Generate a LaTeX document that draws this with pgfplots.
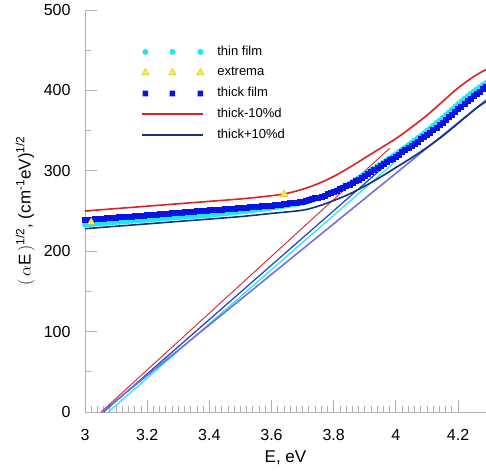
\documentclass[border=0pt]{standalone}
\usepackage{pgfplots}
\pgfplotsset{compat=1.18}
\usepackage{fontspec}
\setmainfont{Liberation Sans}
\definecolor{thincol}{RGB}{30,230,245}
\definecolor{thickcol}{RGB}{10,20,225}
\definecolor{extfill}{RGB}{250,240,60}
\definecolor{extdraw}{RGB}{205,190,40}
\definecolor{redcol}{RGB}{220,35,35}
\definecolor{navycol}{RGB}{20,50,120}
\definecolor{purplecol}{RGB}{115,110,225}
\definecolor{bluecol}{RGB}{40,60,190}
\definecolor{axgray}{RGB}{175,175,175}

\begin{document}
\begin{tikzpicture}
\begin{axis}[
    scale only axis,
    width=401pt, height=402pt,
    xmin=3, xmax=4.29,
    ymin=0, ymax=500,
    axis x line*=bottom, axis y line*=left,
    axis line style={axgray, line width=0.8pt},
    every tick/.style={axgray, line width=0.8pt},
    tick align=inside,
    major tick length=12pt, minor tick length=6pt,
    xtick={3,3.2,3.4,3.6,3.8,4,4.2},
    minor x tick num=9,
    ytick={0,100,200,300,400,500},
    minor y tick num=1,
    /pgf/number format/assume math mode=true,
    ticklabel style={font=\fontsize{16}{16}\selectfont},
    xticklabel style={yshift=-14pt},
    yticklabel style={xshift=-11pt},
    xlabel={E, eV},
    xlabel style={font=\fontsize{17}{17}\selectfont, yshift=-3pt},
    ylabel={$(\,\alpha$E$\,)$\textsuperscript{1/2}, (cm\textsuperscript{-1}eV)\textsuperscript{1/2}},
    ylabel style={font=\fontsize{17}{17}\selectfont, yshift=2pt},
    legend style={draw=none, fill=none, at={(rel axis cs:0.133,0.918)}, anchor=north west,
        font=\fontsize{13}{13}\selectfont, row sep=7.3pt,
        nodes={inner sep=1pt, text height=9pt, text depth=2.5pt},
        /tikz/every odd column/.append style={column sep=12pt}},
    legend cell align=left,
    clip=false,
]
% tangent lines
\addplot[redcol, line width=0.9pt, forget plot] coordinates {(3.052,0) (3.98,328)};
\addplot[thincol, line width=1.2pt, forget plot] coordinates {(3.075,0) (4.0,312)};
\addplot[bluecol, line width=1.2pt, forget plot] coordinates {(3.06,0) (4.0,318)};
\addplot[purplecol, line width=1.6pt, forget plot] coordinates {(3.055,0) (4.29,388)};

% legend entries
\addlegendimage{legend image code/.code={
    \path[draw=none, fill=thincol] (3pt,0pt) circle (3pt) (30pt,0pt) circle (3pt) (58pt,0pt) circle (3pt);}}
\addlegendentry{thin film}
\addlegendimage{legend image code/.code={
    \path plot[only marks, mark=triangle*, mark size=4.2pt, mark options={fill=extfill, draw=extdraw}]
      coordinates {(3pt,0pt) (30pt,0pt) (58pt,0pt)};}}
\addlegendentry{extrema}
\addlegendimage{legend image code/.code={
    \path[draw=none, fill=thickcol] (0.2pt,-2.8pt) rectangle (5.8pt,2.8pt) (27.2pt,-2.8pt) rectangle (32.8pt,2.8pt)
      (55.2pt,-2.8pt) rectangle (60.8pt,2.8pt);}}
\addlegendentry{thick film}
\addlegendimage{legend image code/.code={
    \draw[draw=redcol, line width=1.8pt] (0pt,0pt) -- (61pt,0pt);}}
\addlegendentry{thick-10\%d}
\addlegendimage{legend image code/.code={
    \draw[draw=navycol, line width=1.8pt] (0pt,0pt) -- (61pt,0pt);}}
\addlegendentry{thick+10\%d}

% thin film
\addplot[only marks, mark=*, mark size=2.6pt, color=thincol, forget plot] coordinates {
(3.00,233.0) (3.01,233.3) (3.02,233.6) (3.03,233.9) (3.04,234.2) (3.05,234.5)
(3.06,234.8) (3.07,235.1) (3.08,235.4) (3.09,235.7) (3.10,236.0) (3.11,236.3)
(3.12,236.6) (3.13,236.9) (3.14,237.2) (3.15,237.5) (3.16,237.8) (3.17,238.1)
(3.18,238.4) (3.19,238.7) (3.20,239.0) (3.21,239.3) (3.22,239.6) (3.23,239.9)
(3.24,240.2) (3.25,240.5) (3.26,240.8) (3.27,241.1) (3.28,241.4) (3.29,241.7)
(3.30,242.0) (3.31,242.3) (3.32,242.6) (3.33,242.9) (3.34,243.2) (3.35,243.5)
(3.36,243.8) (3.37,244.1) (3.38,244.4) (3.39,244.7) (3.40,245.0) (3.41,245.4)
(3.42,245.8) (3.43,246.2) (3.44,246.6) (3.45,247.0) (3.46,247.4) (3.47,247.8)
(3.48,248.2) (3.49,248.6) (3.50,249.0) (3.51,249.4) (3.52,249.9) (3.53,250.4)
(3.54,250.9) (3.55,251.4) (3.56,251.9) (3.57,252.4) (3.58,252.9) (3.59,253.4)
(3.60,254.0) (3.61,254.5) (3.62,255.1) (3.63,255.7) (3.64,256.3) (3.65,256.9)
(3.66,257.5) (3.67,258.1) (3.68,258.7) (3.69,259.3) (3.70,260.0) (3.71,261.1)
(3.72,262.2) (3.73,263.4) (3.74,264.7) (3.75,266.0) (3.76,267.4) (3.77,268.9)
(3.78,270.5) (3.79,272.2) (3.80,274.0) (3.81,275.9) (3.82,277.8) (3.83,279.8)
(3.84,281.8) (3.85,284.0) (3.86,286.2) (3.87,288.6) (3.88,291.0) (3.89,293.5)
(3.90,296.0) (3.91,298.4) (3.92,300.8) (3.93,303.2) (3.94,305.6) (3.95,308.1)
(3.96,310.6) (3.97,313.2) (3.98,315.8) (3.99,318.4) (4.00,321.0) (4.01,323.7)
(4.02,326.5) (4.03,329.3) (4.04,332.1) (4.05,335.0) (4.06,337.9) (4.07,340.9)
(4.08,343.9) (4.09,346.9) (4.10,350.0) (4.11,353.1) (4.12,356.3) (4.13,359.5)
(4.14,362.7) (4.15,366.0) (4.16,369.4) (4.17,372.8) (4.18,376.2) (4.19,379.6)
(4.20,383.0) (4.21,386.3) (4.22,389.5) (4.23,392.8) (4.24,396.0) (4.25,398.8)
(4.26,401.5) (4.27,404.3) (4.28,407.0) (4.29,409.5)
};
% thick film
\addplot[only marks, mark=square*, mark size=2.5pt, color=thickcol, forget plot] coordinates {
(3.00,239.0) (3.01,239.3) (3.02,239.6) (3.03,239.9) (3.04,240.2) (3.05,240.5)
(3.06,240.8) (3.07,241.1) (3.08,241.4) (3.09,241.7) (3.10,242.0) (3.11,242.3)
(3.12,242.6) (3.13,242.9) (3.14,243.2) (3.15,243.5) (3.16,243.8) (3.17,244.1)
(3.18,244.4) (3.19,244.7) (3.20,245.0) (3.21,245.3) (3.22,245.6) (3.23,245.9)
(3.24,246.2) (3.25,246.5) (3.26,246.8) (3.27,247.1) (3.28,247.4) (3.29,247.7)
(3.30,248.0) (3.31,248.3) (3.32,248.6) (3.33,248.9) (3.34,249.2) (3.35,249.5)
(3.36,249.8) (3.37,250.1) (3.38,250.4) (3.39,250.7) (3.40,251.0) (3.41,251.3)
(3.42,251.6) (3.43,251.9) (3.44,252.2) (3.45,252.5) (3.46,252.8) (3.47,253.1)
(3.48,253.4) (3.49,253.7) (3.50,254.0) (3.51,254.3) (3.52,254.6) (3.53,254.9)
(3.54,255.2) (3.55,255.5) (3.56,255.8) (3.57,256.1) (3.58,256.4) (3.59,256.7)
(3.60,257.0) (3.61,257.4) (3.62,257.8) (3.63,258.3) (3.64,258.8) (3.65,259.3)
(3.66,259.8) (3.67,260.3) (3.68,260.8) (3.69,261.4) (3.70,262.0) (3.71,262.9)
(3.72,263.8) (3.73,264.9) (3.74,266.0) (3.75,267.1) (3.76,268.2) (3.77,269.6)
(3.78,271.0) (3.79,272.5) (3.80,274.0) (3.81,275.7) (3.82,277.5) (3.83,279.2)
(3.84,281.0) (3.85,283.0) (3.86,285.0) (3.87,287.2) (3.88,289.4) (3.89,291.7)
(3.90,294.0) (3.91,296.4) (3.92,298.8) (3.93,301.2) (3.94,303.6) (3.95,306.0)
(3.96,308.4) (3.97,310.8) (3.98,313.2) (3.99,315.6) (4.00,318.0) (4.01,320.6)
(4.02,323.2) (4.03,325.8) (4.04,328.4) (4.05,331.0) (4.06,333.7) (4.07,336.5)
(4.08,339.3) (4.09,342.1) (4.10,345.0) (4.11,348.0) (4.12,351.0) (4.13,354.0)
(4.14,357.0) (4.15,360.2) (4.16,363.4) (4.17,366.8) (4.18,370.2) (4.19,373.6)
(4.20,377.0) (4.21,380.3) (4.22,383.5) (4.23,386.8) (4.24,390.0) (4.25,393.0)
(4.26,396.0) (4.27,398.8) (4.28,401.5) (4.29,404.0)
};
% thick-10%d
\addplot[redcol, line width=1.6pt, smooth, forget plot] coordinates {
(3.00,250) (3.10,253) (3.20,256) (3.30,259) (3.40,262) (3.50,265) (3.60,269)
(3.65,272) (3.70,277) (3.75,284) (3.80,293) (3.85,304) (3.90,316) (3.95,328)
(4.00,340) (4.05,354) (4.10,369) (4.15,386) (4.20,403) (4.25,417) (4.29,426)
};
% thick+10%d
\addplot[navycol, line width=1.6pt, smooth, forget plot] coordinates {
(3.00,228) (3.10,231) (3.20,234) (3.30,237) (3.40,240) (3.50,243) (3.60,247)
(3.70,251) (3.75,256) (3.80,263) (3.85,271) (3.90,281) (3.95,292) (4.00,304)
(4.05,316) (4.10,329) (4.15,343) (4.20,359) (4.25,375) (4.27,381) (4.29,386)
};
% extrema
\addplot[only marks, mark=triangle*, mark size=4.4pt, mark options={fill=extfill, draw=extdraw}, forget plot] coordinates {
(3.02,236) (3.64,271)
};
\end{axis}
\pgfresetboundingbox
\path ([xshift=-85pt,yshift=-60pt]current axis.south west) rectangle ([yshift=10pt]current axis.north east);
\end{tikzpicture}
\end{document}
